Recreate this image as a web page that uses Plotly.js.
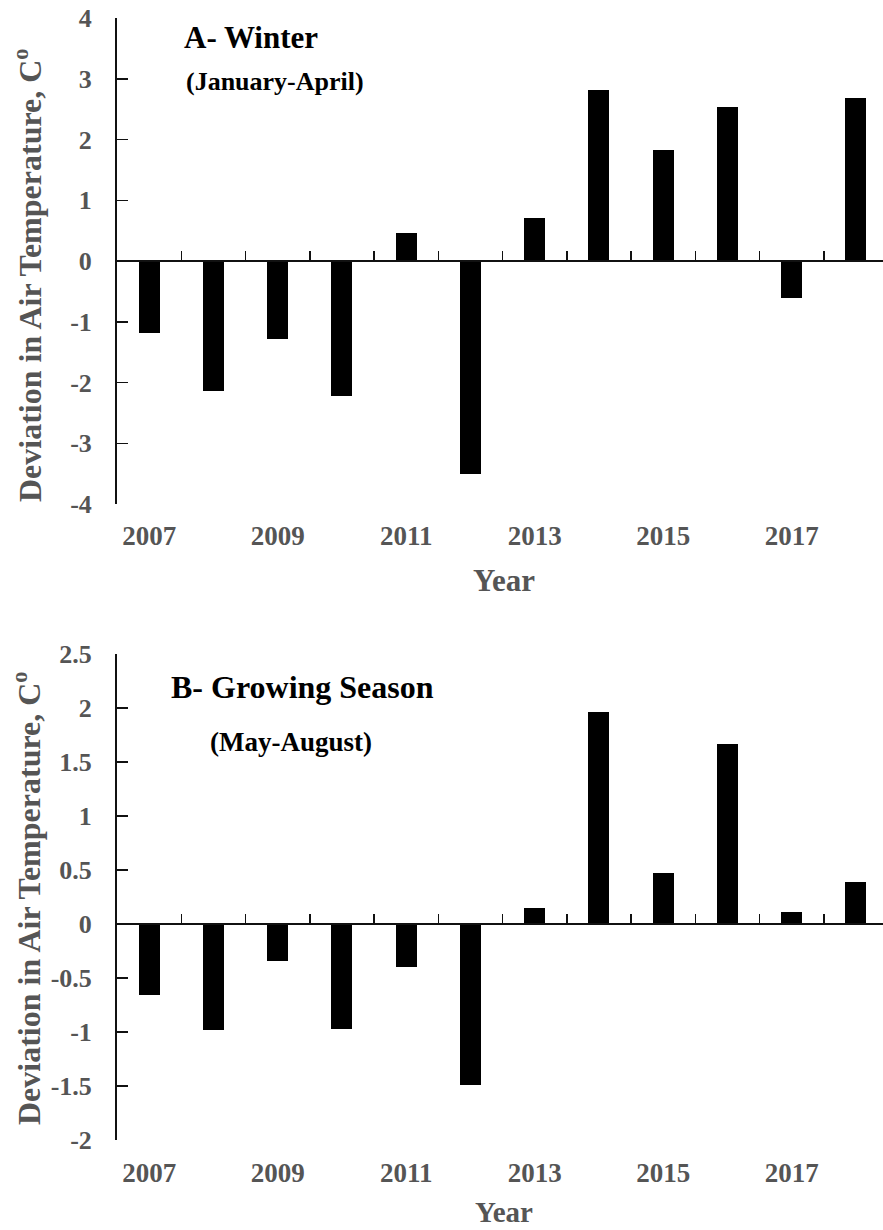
<!DOCTYPE html>
<html>
<head>
<meta charset="utf-8">
<script src="https://cdn.plot.ly/plotly-3.0.1.min.js"></script>
<style>
html,body{margin:0;padding:0;background:#fff;overflow:hidden;}
#chart{width:888px;height:1230px;}
</style>
</head>
<body>
<div id="chart"></div>
<script>
// ---- data ----
const years = [2007, 2008, 2009, 2010, 2011, 2012, 2013, 2014, 2015, 2016, 2017, 2018];
const winterDeviation = [-1.18, -2.14, -1.29, -2.22, 0.46, -3.51, 0.70, 2.82, 1.83, 2.53, -0.61, 2.68];
const growingDeviation = [-0.66, -0.98, -0.34, -0.97, -0.40, -1.49, 0.15, 1.96, 0.47, 1.67, 0.11, 0.39];
const labelYears = [2007, 2009, 2011, 2013, 2015, 2017];
const labelText = ['2007', '2009', '2011', '2013', '2015', '2017'];
const winterTicks = [-4, -3, -2, -1, 0, 1, 2, 3, 4];
const growingTicks = [-2, -1.5, -1, -0.5, 0, 0.5, 1, 1.5, 2, 2.5];
const yTitle = 'Deviation in Air Temperature, C<sup>o</sup>';
const xTitle = 'Year';

// ---- layout helpers ----
const W = 888, H = 1230, L = 117;
const py = p => 1 - p / H;              // pixel row -> paper y
const px = p => (p - L) / (W - L);      // pixel col -> paper x
const topDom = [py(504), py(18)];
const botDom = [py(1140), py(654)];
const topRange = [-4, 4];
const botRange = [-2, 2.5];
const zeroPos = (dom, r) => dom[0] + (0 - r[0]) / (r[1] - r[0]) * (dom[1] - dom[0]);
const boundaries = years.slice(0, -1).map(y => y + 0.5);

const FONT = 'Liberation Serif, Times New Roman, serif';
const GRAY = '#555555';

function xAxis(dom, r) {
  return {
    anchor: 'free',
    position: zeroPos(dom, r),
    domain: [0, 1],
    range: [years[0] - 0.5, years[years.length - 1] + 0.5],
    tickmode: 'array',
    tickvals: labelYears,
    ticktext: labelText,
    ticks: '',
    ticklabelstandoff: 0,
    showline: true, linecolor: '#111', linewidth: 2,
    showgrid: false, zeroline: false,
    minor: {tickmode: 'array', tickvals: boundaries, ticks: 'inside', ticklen: 9,
            tickwidth: 1.5, tickcolor: '#111', showgrid: false},
    tickfont: {family: FONT, size: 27, color: GRAY, weight: 700},
    fixedrange: true
  };
}
function yAxis(dom, r, ticks, anchor) {
  return {
    domain: dom, range: r, anchor: anchor,
    tickmode: 'array', tickvals: ticks, ticktext: ticks.map(String),
    ticks: 'inside', ticklen: 11, tickwidth: 1.5, tickcolor: '#111',
    showline: true, linecolor: '#111', linewidth: 2,
    showgrid: false, zeroline: false,
    ticklabelstandoff: 18,
    tickfont: {family: FONT, size: 26, color: GRAY, weight: 700},
    fixedrange: true
  };
}

const xa1 = xAxis(topDom, topRange);
xa1.ticklabelstandoff = 251;
const xa2 = xAxis(botDom, botRange);
xa2.ticklabelstandoff = 225;

const traces = [
  {type: 'bar', x: years, y: winterDeviation, xaxis: 'x', yaxis: 'y',
   width: 0.33, marker: {color: '#000', line: {width: 0}}, hoverinfo: 'x+y'},
  {type: 'bar', x: years, y: growingDeviation, xaxis: 'x2', yaxis: 'y2',
   width: 0.33, marker: {color: '#000', line: {width: 0}}, hoverinfo: 'x+y'}
];

const ann = (text, x, y, size, color, opts) => Object.assign({
  text: text, xref: 'paper', yref: 'paper', x: x, y: y,
  xanchor: 'left', yanchor: 'middle', showarrow: false,
  font: {family: FONT, size: size, color: color, weight: 700}
}, opts || {});

const layout = {
  width: W, height: H,
  margin: {l: L, r: 0, t: 0, b: 0, pad: 0},
  paper_bgcolor: '#fff', plot_bgcolor: 'rgba(0,0,0,0)',
  showlegend: false,
  bargap: 0,
  xaxis: xa1,
  yaxis: yAxis(topDom, topRange, winterTicks, 'x'),
  xaxis2: xa2,
  yaxis2: yAxis(botDom, botRange, growingTicks, 'x2'),
  annotations: [
    ann('A- Winter', px(182), py(38), 31, '#000'),
    ann('(January-April)', px(184), py(81), 26, '#000'),
    ann('B- Growing Season', px(169), py(687), 32, '#000'),
    ann('(May-August)', px(208), py(742), 27, '#000'),
    ann(yTitle, px(28), py(275), 32, GRAY, {xanchor: 'center', textangle: -90}),
    ann(yTitle, px(27), py(898), 32, GRAY, {xanchor: 'center', textangle: -90}),
    ann(xTitle, px(504), py(580), 31, GRAY, {xanchor: 'center'}),
    ann(xTitle, px(504), py(1212), 29, GRAY, {xanchor: 'center', borderpad: 0})
  ]
};

Plotly.newPlot('chart', traces, layout, {displayModeBar: false, staticPlot: true});
</script>
</body>
</html>
